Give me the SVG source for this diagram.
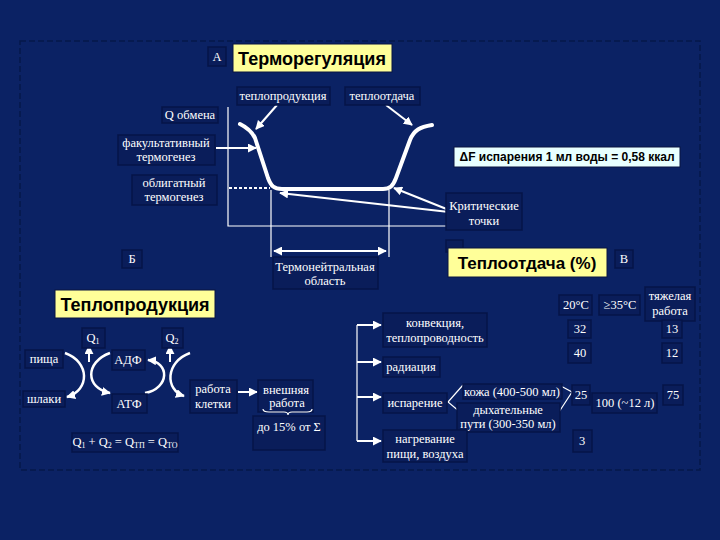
<svg xmlns="http://www.w3.org/2000/svg" width="720" height="540" viewBox="0 0 720 540">
<defs>
<marker id="ah" viewBox="0 0 10 10" refX="9" refY="5" markerWidth="9" markerHeight="9" markerUnits="userSpaceOnUse" orient="auto-start-reverse">
<path d="M0,0 L10,5 L0,10 z" fill="#ffffff"/>
</marker>
<style>
.bx{fill:#0a1d5a;stroke:#061548;stroke-width:1.5}
.yb{fill:#ffff99;stroke:#0a1540;stroke-width:1}
.cb{fill:#e8ffff;stroke:#0a1540;stroke-width:1}
.t{font-family:"Liberation Serif","Times New Roman",serif;font-size:12.5px;fill:#ffffff;text-anchor:middle}
.h{font-family:"Liberation Sans",Arial,sans-serif;font-weight:bold;font-size:18px;fill:#000000;text-anchor:middle}
.ln{stroke:#ffffff;stroke-width:1.2;fill:none}
.ar{stroke:#ffffff;stroke-width:2;fill:none;marker-end:url(#ah)}
.arc{stroke:#ffffff;stroke-width:2.5;fill:none;marker-end:url(#ah)}
</style>
</defs>
<rect width="720" height="540" fill="#0b2264"/>
<rect x="20" y="41" width="680" height="429" fill="none" stroke="#06184a" stroke-width="1.5" stroke-dasharray="6 3"/>

<g id="connectors">
<path class="ln" d="M228,107 L228,226 L450,226"/>
<path class="ln" d="M271,190 L271,257 M389,190 L389,257"/>
<path d="M229,188 L270,188" stroke="#ffffff" stroke-width="2" stroke-dasharray="3 2" fill="none"/>
<path d="M240,124 C248,128 252,132 255,138 L268,178 C271,186 274,189 282,189 L383,189 C390,189 393,186 396,178 L410,140 C414,130 420,127 432,125" stroke="#ffffff" stroke-width="4" fill="none" stroke-linecap="round" stroke-linejoin="round"/>
<path class="ar" d="M277,105 L256,129"/>
<path class="ar" d="M386,105 L412,125"/>
<path class="ar" d="M216,148 L256,148"/>
<path class="ar" d="M449,212 L280,193"/>
<path class="ar" d="M449,210 L394,188"/>
<path class="ar" d="M274,251 L386,251" marker-start="url(#ah)"/>
<path class="ar" d="M89,362 L89,346"/>
<path class="ar" d="M170,362 L170,346"/>
<path class="arc" d="M65,353 C90,362 90,390 67,397"/>
<path class="arc" d="M110,353 C85,362 85,388 110,393"/>
<path class="arc" d="M145,393 C170,388 170,362 148,360"/>
<path class="arc" d="M190,353 C165,362 165,390 184,396"/>
<path class="ar" d="M238,392 L257,392"/>
<path class="ln" d="M357,325 L357,441"/>
<path class="ar" d="M357,325 L381,325"/>
<path class="ar" d="M357,362 L381,362"/>
<path class="ar" d="M357,397 L381,397"/>
<path class="ar" d="M357,441 L381,441"/>
<path class="ln" d="M463,385 L448,402 L460,412"/>
<path class="ln" d="M559,385 L572,392 L559,412"/>
</g>

<g id="label-A"><rect class="bx" x="208" y="47" width="18" height="19"/><text class="t" x="217" y="61">А</text></g>
<g id="title-thermoreg"><rect class="yb" x="233" y="44" width="159" height="28"/><text class="h" x="312" y="65">Терморегуляция</text></g>
<g id="heat-production-label"><rect class="bx" x="237" y="87" width="93" height="18"/><text class="t" x="283" y="100">теплопродукция</text></g>
<g id="heat-loss-label"><rect class="bx" x="345" y="87" width="75" height="18"/><text class="t" x="382" y="100">теплоотдача</text></g>
<g id="q-metabolism"><rect class="bx" x="162" y="107" width="56" height="16"/><text class="t" x="190" y="119">Q обмена</text></g>
<g id="facultative"><rect class="bx" x="118" y="135" width="97" height="30"/><text class="t" x="166" y="147">факультативный</text><text class="t" x="166" y="161">термогенез</text></g>
<g id="obligate"><rect class="bx" x="132" y="175" width="85" height="30"/><text class="t" x="174" y="187">облигатный</text><text class="t" x="174" y="201">термогенез</text></g>
<g id="delta-f"><rect class="cb" x="454" y="147" width="226" height="20"/><text class="h" style="font-size:12px" x="567" y="161">ΔF испарения 1 мл воды = 0,58 ккал</text></g>
<g id="critical-points"><rect class="bx" x="446" y="193" width="76" height="37"/><text class="t" x="484" y="210">Критические</text><text class="t" x="484" y="225">точки</text></g>
<g id="thermoneutral"><rect class="bx" x="273" y="257" width="105" height="32"/><text class="t" x="325" y="271">Термонейтральная</text><text class="t" x="325" y="285">область</text></g>

<g id="label-B"><rect class="bx" x="122" y="250" width="20" height="18"/><text class="t" x="132" y="263">Б</text></g>
<g id="title-production"><rect class="yb" x="55" y="290" width="160" height="28"/><text class="h" x="135" y="311">Теплопродукция</text></g>
<g id="label-G"><rect class="bx" x="446" y="240" width="17" height="12"/></g>
<g id="title-loss"><rect class="yb" x="448" y="248" width="159" height="29"/><text class="h" style="font-size:17px" x="527" y="269">Теплоотдача (%)</text></g>
<g id="label-V"><rect class="bx" x="615" y="250" width="18" height="18"/><text class="t" x="624" y="263">В</text></g>

<g id="q1"><rect class="bx" x="82" y="328" width="23" height="20"/><text class="t" x="93" y="342">Q<tspan font-size="8" dy="2">1</tspan></text></g>
<g id="q2"><rect class="bx" x="162" y="328" width="21" height="20"/><text class="t" x="172" y="342">Q<tspan font-size="8" dy="2">2</tspan></text></g>
<g id="food"><rect class="bx" x="25" y="350" width="38" height="18"/><text class="t" x="44" y="363">пища</text></g>
<g id="adp"><rect class="bx" x="112" y="350" width="33" height="20"/><text class="t" x="128" y="364">АДФ</text></g>
<g id="waste"><rect class="bx" x="23" y="391" width="42" height="16"/><text class="t" x="44" y="403">шлаки</text></g>
<g id="atp"><rect class="bx" x="112" y="394" width="35" height="19"/><text class="t" x="129" y="408">АТФ</text></g>
<g id="cell-work"><rect class="bx" x="190" y="380" width="47" height="33"/><text class="t" x="213" y="393">работа</text><text class="t" x="213" y="408">клетки</text></g>
<g id="up-to-15"><rect class="bx" x="253" y="416" width="72" height="34"/><text class="t" x="289" y="431">до 15% от Σ</text></g>
<g id="external-work"><rect class="bx" x="258" y="380" width="55" height="32"/><text class="t" x="286" y="394">внешняя</text><text class="t" x="287" y="407">работа</text>
<path class="ln" d="M263,409 Q263,412 269,412 L284,412 Q288,412 288,415 Q288,412 292,412 L307,412 Q312,412 312,409"/></g>
<g id="balance"><rect class="bx" x="72" y="433" width="106" height="19"/><text class="t" x="125" y="446">Q<tspan font-size="8" dy="2">1</tspan><tspan dy="-2"> + Q</tspan><tspan font-size="8" dy="2">2</tspan><tspan dy="-2"> = Q</tspan><tspan font-size="8" dy="2">ТП</tspan><tspan dy="-2"> = Q</tspan><tspan font-size="8" dy="2">ТО</tspan></text></g>

<g id="convection"><rect class="bx" x="383" y="313" width="104" height="34"/><text class="t" x="435" y="327">конвекция,</text><text class="t" x="435" y="342">теплопроводность</text></g>
<g id="radiation"><rect class="bx" x="383" y="357" width="57" height="20"/><text class="t" x="411" y="371">радиация</text></g>
<g id="evaporation"><rect class="bx" x="383" y="393" width="64" height="20"/><text class="t" x="415" y="407">испарение</text></g>
<g id="skin"><rect class="bx" x="463" y="384" width="99" height="15"/><text class="t" x="512" y="396">кожа (400-500 мл)</text></g>
<g id="airways"><rect class="bx" x="457" y="403" width="103" height="29"/><text class="t" x="508" y="414">дыхательные</text><text class="t" x="508" y="428">пути (300-350 мл)</text></g>
<g id="heating"><rect class="bx" x="383" y="430" width="84" height="32"/><text class="t" x="425" y="443">нагревание</text><text class="t" x="425" y="458">пищи, воздуха</text></g>

<g id="col-20"><rect class="bx" x="559" y="295" width="33" height="20"/><text class="t" x="576" y="309">20°С</text></g>
<g id="col-35"><rect class="bx" x="599" y="295" width="41" height="20"/><text class="t" x="620" y="309">≥35°С</text></g>
<g id="col-heavy"><rect class="bx" x="645" y="287" width="50" height="34"/><text class="t" x="670" y="300">тяжелая</text><text class="t" x="670" y="315">работа</text></g>
<g id="v32"><rect class="bx" x="568" y="320" width="23" height="18"/><text class="t" x="580" y="333">32</text></g>
<g id="v13"><rect class="bx" x="662" y="320" width="20" height="18"/><text class="t" x="672" y="333">13</text></g>
<g id="v40"><rect class="bx" x="568" y="343" width="23" height="20"/><text class="t" x="580" y="357">40</text></g>
<g id="v12"><rect class="bx" x="662" y="343" width="20" height="20"/><text class="t" x="672" y="357">12</text></g>
<g id="v25"><rect class="bx" x="572" y="385" width="18" height="20"/><text class="t" x="581" y="399">25</text></g>
<g id="v100"><rect class="bx" x="592" y="393" width="65" height="20"/><text class="t" x="625" y="407">100 (~12 л)</text></g>
<g id="v75"><rect class="bx" x="663" y="385" width="20" height="20"/><text class="t" x="673" y="399">75</text></g>
<g id="v3"><rect class="bx" x="573" y="430" width="19" height="22"/><text class="t" x="582" y="445">3</text></g>
</svg>
